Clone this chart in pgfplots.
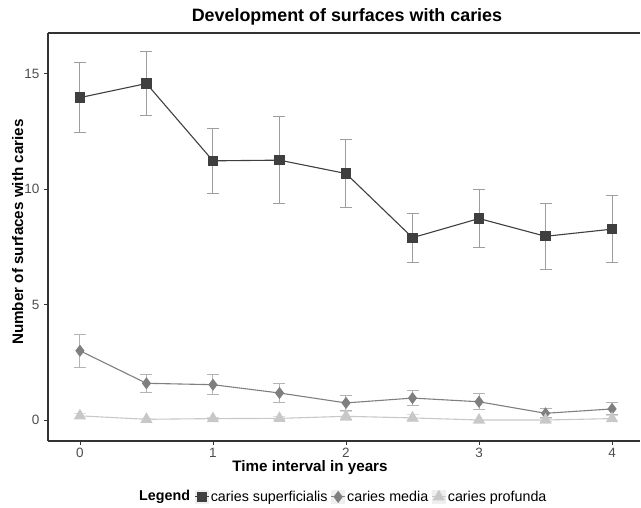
\documentclass[border=0pt]{standalone}
\usepackage{pgfplots}
\pgfplotsset{compat=1.18}
\usepackage{fontspec}
\setmainfont{Liberation Sans}
\definecolor{supC}{HTML}{3F3F3F}
\definecolor{supE}{HTML}{9E9E9E}
\definecolor{medC}{HTML}{7F7F7F}
\definecolor{medE}{HTML}{B4B4B4}
\definecolor{proC}{HTML}{C8C8C8}
\definecolor{proE}{HTML}{DCDCDC}
\definecolor{axC}{HTML}{333333}
\definecolor{tickC}{HTML}{4D4D4D}
\definecolor{keyC}{HTML}{EFEFEF}

\pgfplotstableread{
x y e
0 13.97 1.53
0.5 14.58 1.38
1 11.23 1.42
1.5 11.26 1.90
2 10.68 1.48
2.5 7.90 1.06
3 8.73 1.24
3.5 7.96 1.42
4 8.27 1.46
}\sup
\pgfplotstableread{
x y e
0 3.00 0.71
0.5 1.59 0.40
1 1.53 0.44
1.5 1.17 0.40
2 0.74 0.34
2.5 0.95 0.31
3 0.79 0.35
3.5 0.29 0.19
4 0.48 0.26
}\med
\pgfplotstableread{
x y e
0 0.18 0.10
0.5 0.03 0.03
1 0.06 0.05
1.5 0.07 0.06
2 0.16 0.20
2.5 0.09 0.15
3 0.00 0.03
3.5 0.00 0.06
4 0.06 0.12
}\pro

\begin{document}
\begin{tikzpicture}
\useasboundingbox (-48pt,-67pt) rectangle (593pt,441pt);
\begin{axis}[
  at={(0pt,0pt)}, anchor=south west,
  scale only axis, width=592pt, height=408pt,
  xmin=-0.24, xmax=4.21, ymin=-0.91, ymax=16.77,
  axis x line*=bottom, axis y line*=left,
  axis line style={-, color=axC, line width=1.1pt},
  xtick={0,1,2,3,4}, ytick={0,5,10,15},
  tick align=outside, major tick length=4pt,
  tick style={color=axC, line width=0.8pt},
  /pgf/number format/assume math mode=true,
  xticklabel={\fontsize{13.5}{16}\selectfont\pgfmathprintnumber{\tick}},
  yticklabel={\fontsize{13.5}{16}\selectfont\pgfmathprintnumber{\tick}},
  tick label style={color=tickC},
  xticklabel style={inner sep=1pt, yshift=-2pt},
  yticklabel style={xshift=-1pt},
  clip=false,
  title={\textbf{Development of surfaces with caries}},
  title style={at={(0.505,1.027)}, anchor=base, yshift=-6pt, font=\fontsize{17.9}{20}\selectfont},
  xlabel={\textbf{Time interval in years}},
  xlabel style={at={(0.4426,-0.0745)}, anchor=base, inner sep=0pt, font=\fontsize{15.2}{17}\selectfont},
  ylabel={\textbf{Number of surfaces with caries}},
  ylabel style={at={(-0.0422,0.512)}, anchor=base, inner sep=0pt, font=\fontsize{15.2}{17}\selectfont},
  legend columns=-1,
  legend style={at={(0.2466,-0.137)}, anchor=west, draw=none, fill=none,
    inner sep=0pt, font=\fontsize{14.3}{16}\selectfont,
    nodes={inner sep=1.5pt},
    /tikz/every odd column/.append style={column sep=0pt},
    /tikz/every even column/.append style={column sep=1.5pt}},
  legend image code/.code={
    \fill[keyC, draw=none] (0pt,-7pt) rectangle (14pt,7pt);
    \draw[mark repeat=2, mark phase=2] plot coordinates {(0pt,0pt) (7pt,0pt) (14pt,0pt)};
  },
]
\draw[axC, line width=1.1pt] (rel axis cs:0,1) -- (rel axis cs:1,1);
\addplot[supC, line width=1.1pt, mark=square*, mark size=4.6pt, mark options={fill=supC, draw=supC},
  error bars/.cd, y dir=both, y explicit,
  error bar style={supE, line width=1pt},
  error mark options={supE, rotate=90, mark size=6pt, line width=1pt}]
  table[x=x, y=y, y error=e] {\sup};
\addlegendentry{caries superficialis}
\addplot[medC, line width=1.1pt, mark=diamond*, mark size=5.2pt, mark options={fill=medC, draw=medC},
  error bars/.cd, y dir=both, y explicit,
  error bar style={medE, line width=1pt},
  error mark options={medE, rotate=90, mark size=6pt, line width=1pt}]
  table[x=x, y=y, y error=e] {\med};
\addlegendentry{caries media}
\addplot[proC, line width=1.1pt, mark=triangle*, mark size=6pt, mark options={fill=proC, draw=proC},
  error bars/.cd, y dir=both, y explicit,
  error bar style={proE, line width=1pt},
  error mark options={proE, rotate=90, mark size=6pt, line width=1pt}]
  table[x=x, y=y, y error=e] {\pro};
\addlegendentry{caries profunda}
\node[anchor=west, inner sep=0pt, font=\fontsize{14.3}{16}\selectfont\bfseries] at (rel axis cs:0.1537,-0.137) {Legend};
\end{axis}
\end{tikzpicture}
\end{document}
